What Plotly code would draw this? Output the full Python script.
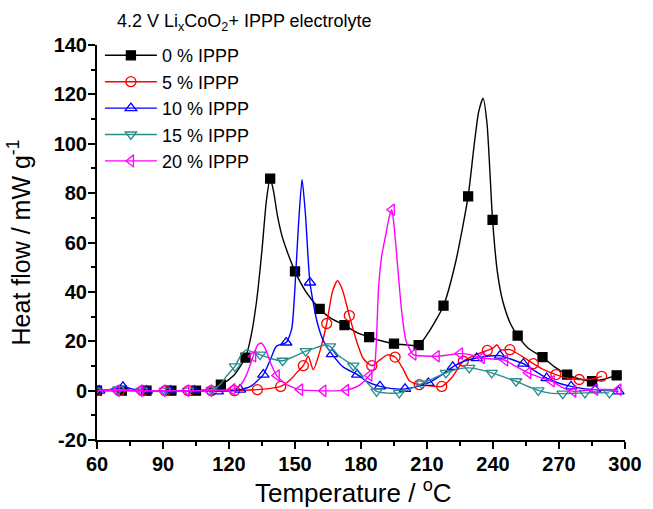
import plotly.graph_objects as go

# ---------------- data ----------------
series_names = ["0 % IPPP", "5 % IPPP", "10 % IPPP", "15 % IPPP", "20 % IPPP"]

# 0 % IPPP
s0_mark_t = [60, 71.3, 82.5, 93.8, 105, 116.3, 127.5, 138.7, 150, 161.2, 172.5, 183.7, 195, 206.2, 217.5, 228.7, 239.8, 251.2, 262.5, 273.7, 285, 296.2]
s0_mark_y = [0, 0, 0, 0, 0, 2.4, 13.4, 85.9, 48.3, 33.1, 26.5, 21.7, 19.0, 18.4, 34.4, 78.7, 69.2, 22.3, 13.6, 6.5, 3.8, 6.2]
s0_curve_t = [60, 71.3, 82.5, 93.8, 105, 110, 116.3, 122, 127.5, 130, 132.5, 135, 137, 138.7, 140.2, 142, 144, 146.2, 150, 155, 161.2, 166, 172.5, 178, 183.7, 190, 195, 200, 206.2, 211, 217.5, 223, 228.7, 231.5, 233.5, 235.5, 237.3, 239.8, 242, 244.5, 248, 251.2, 256, 262.5, 268, 273.7, 279, 285, 290, 296.2]
s0_curve_y = [0, 0, 0, 0, 0, 0.4, 2.4, 6.0, 13.4, 22, 36, 57, 77, 85.9, 81, 71, 63, 57, 48.3, 40, 33.1, 29.5, 26.5, 23.6, 21.7, 20.0, 19.0, 18.6, 18.4, 24, 34.4, 52, 78.7, 100, 113, 118.5, 108, 69.2, 48, 36, 27, 22.3, 17.2, 13.6, 9.6, 6.5, 4.8, 3.8, 4.5, 6.2]

# 5 % IPPP
s1_mark_t = [59.7, 70.1, 80.6, 91.0, 101.5, 112.0, 122.5, 132.9, 143.5, 153.8, 164.4, 174.7, 184.9, 195.5, 206.5, 216.7, 226.5, 237.4, 247.7, 258.3, 268.6, 279.2, 289.4]
s1_mark_y = [0, 0, 0, 0, 0, 0, 0, 0.4, 1.7, 10.1, 27.2, 30.4, 10.1, 13.6, 2.4, 1.7, 11.9, 16.3, 16.6, 10.9, 6.5, 4.5, 5.8]
s1_curve_t = [59.7, 70.1, 80.6, 91.0, 101.5, 112.0, 122.5, 132.9, 138, 143.5, 148, 151, 153.8, 156, 158.3, 161, 164.4, 167, 169.3, 171.5, 174.7, 178, 181, 184.9, 188, 192, 195.5, 199, 202, 206.5, 211, 216.7, 221, 226.5, 232, 237.4, 240, 241.8, 243.5, 247.7, 253, 258.3, 263, 268.6, 274, 279.2, 284, 289.4]
s1_curve_y = [0, 0, 0, 0, 0, 0, 0, 0.4, 0.8, 1.7, 4.5, 7.5, 10.1, 13.9, 8.5, 15, 27.2, 40, 44.5, 41, 30.4, 20, 13, 10.1, 12, 14.5, 13.6, 9, 4, 2.4, 2.0, 1.7, 5.0, 11.9, 14.5, 16.3, 17.2, 18.6, 16.5, 16.6, 14, 10.9, 8.5, 6.5, 5.0, 4.5, 4.6, 5.8]

# 10 % IPPP
s2_mark_t = [61.0, 71.8, 82.6, 93.4, 104.2, 114.9, 125.0, 135.6, 146.0, 156.8, 166.8, 178.3, 188.6, 200.0, 210.6, 221.7, 232.6, 243.2, 253.8, 264.4, 275.5, 286.4, 297.0]
s2_mark_y = [0, 1.5, 0, 0, 0, -0.3, 0.4, 6.5, 19.5, 43.8, 14.8, 6.5, 1.7, 0.7, 3.1, 9.6, 13.2, 14.2, 10.9, 5.1, 1.7, 0.4, -0.3]
s2_curve_t = [61.0, 66, 71.8, 77, 82.6, 93.4, 104.2, 114.9, 125.0, 130, 135.6, 139, 141.5, 146.0, 148.5, 150, 151.5, 153.2, 154.7, 156.8, 160, 163, 166.8, 172, 178.3, 183, 188.6, 194, 200.0, 205, 210.6, 216, 221.7, 227, 232.6, 238, 243.2, 248, 253.8, 259, 264.4, 270, 275.5, 281, 286.4, 292, 297.0]
s2_curve_y = [0, 0.5, 1.5, 0.5, 0, 0, 0, -0.3, 0.4, 1.8, 6.5, 13, 18, 19.5, 25, 42, 66, 85.5, 72, 43.8, 28, 20, 14.8, 9.5, 6.5, 3.5, 1.7, 0.8, 0.7, 1.5, 3.1, 6.0, 9.6, 12, 13.2, 14.0, 14.2, 12.8, 10.9, 8.0, 5.1, 3.0, 1.7, 0.8, 0.4, 0, -0.3]

# 15 % IPPP
s3_mark_t = [59.1, 69.7, 80.3, 90.9, 101.5, 112.1, 122.7, 134.1, 144.4, 154.9, 165.9, 176.5, 187.1, 197.4, 207.6, 218.6, 229.2, 239.4, 250.5, 260.6, 271.7, 281.8, 292.9]
s3_mark_y = [0, 0.5, 0, 0, 0, 0.3, 9.8, 14.6, 12.1, 16.0, 17.9, 10.1, -0.3, -0.9, 2.8, 7.2, 9.2, 7.2, 3.8, 0.1, -1.2, -0.9, -0.9]
s3_curve_t = [59.1, 69.7, 80.3, 90.9, 101.5, 112.1, 116, 119, 122.7, 125.5, 128, 131, 134.1, 139, 144.4, 150, 154.9, 160, 163, 165.9, 170, 176.5, 182, 187.1, 192, 197.4, 202, 207.6, 213, 218.6, 224, 229.2, 234, 239.4, 245, 250.5, 255, 260.6, 266, 271.7, 281.8, 292.9]
s3_curve_y = [0, 0.5, 0, 0, 0, 0.3, 2.5, 6.0, 9.8, 14.5, 16.5, 15.5, 14.6, 13.0, 12.1, 14.0, 16.0, 17.5, 18.4, 17.9, 14.0, 10.1, 4.0, -0.3, -1.0, -0.9, 0.5, 2.8, 5.0, 7.2, 8.7, 9.2, 8.5, 7.2, 5.5, 3.8, 2.0, 0.1, -1.0, -1.2, -0.9, -0.9]

# 20 % IPPP
s4_mark_t = [58.5, 69.0, 79.5, 90.0, 100.5, 111.0, 121.5, 131.0, 141.7, 152.3, 162.9, 173.2, 183.8, 194.0, 203.8, 214.4, 225.0, 234.9, 245.5, 256.0, 266.7, 276.5, 286.4, 297.0]
s4_mark_y = [0, 0, 0, 0, 0, 0, 0.5, 13.9, 6.1, 0.4, -0.1, 0.2, 6.1, 73.3, 14.6, 13.9, 15.0, 13.2, 12.3, 7.2, 3.8, -0.3, 0.4, 0.4]
s4_curve_t = [58.5, 69.0, 79.5, 90.0, 100.5, 111.0, 121.5, 125, 128, 131.0, 133, 134.7, 136.5, 139, 141.7, 146, 152.3, 162.9, 173.2, 179, 183.8, 186, 187, 188, 189.5, 191, 193, 194.0, 195, 196.5, 198.5, 200.5, 203.8, 209, 214.4, 220, 225.0, 230, 234.9, 240, 245.5, 250, 256.0, 261, 266.7, 271, 276.5, 286.4, 297.0]
s4_curve_y = [0, 0, 0, 0, 0, 0, 0.5, 2.0, 6.5, 13.9, 18.5, 19.3, 17.0, 11.0, 6.1, 2.5, 0.4, -0.1, 0.2, 2.0, 6.1, 9.0, 20, 42, 55, 62, 71, 73.3, 67, 52, 32, 20, 14.6, 14.0, 13.9, 14.5, 15.0, 14.5, 13.2, 12.8, 12.3, 10.0, 7.2, 5.5, 3.8, 1.5, -0.3, 0.4, 0.4]

x_ticks = [60, 90, 120, 150, 180, 210, 240, 270, 300]
y_ticks = [-20, 0, 20, 40, 60, 80, 100, 120, 140]

# ---------------- style ----------------
colors = ["#000000", "#ff0000", "#0000ff", "#2a8c8c", "#ff00ff"]
symbols = ["square", "circle-open", "triangle-up-open", "triangle-down-open", "triangle-left-open"]
msizes = [9, 10, 10, 10, 10]

curves = [(s0_curve_t, s0_curve_y), (s1_curve_t, s1_curve_y), (s2_curve_t, s2_curve_y),
          (s3_curve_t, s3_curve_y), (s4_curve_t, s4_curve_y)]
marks = [(s0_mark_t, s0_mark_y), (s1_mark_t, s1_mark_y), (s2_mark_t, s2_mark_y),
         (s3_mark_t, s3_mark_y), (s4_mark_t, s4_mark_y)]

fig = go.Figure()
for i, name in enumerate(series_names):
    ct, cy = curves[i]
    mt, my = marks[i]
    fig.add_trace(go.Scatter(x=ct, y=cy, mode="lines", line=dict(color=colors[i], width=1.4, shape="spline", smoothing=0.6),
                             showlegend=False, legendgroup=name, hoverinfo="skip"))
    fig.add_trace(go.Scatter(x=mt, y=my, mode="markers", showlegend=False, legendgroup=name,
                             marker=dict(symbol=symbols[i], size=msizes[i], color=colors[i], line=dict(color=colors[i], width=1.3))))
    fig.add_trace(go.Scatter(x=[None], y=[None], mode="lines+markers", name=name, legendgroup=name,
                             line=dict(color=colors[i], width=1.4),
                             marker=dict(symbol=symbols[i], size=msizes[i], color=colors[i], line=dict(color=colors[i], width=1.3))))

axis_font = dict(family="Liberation Sans, Arial", size=20, color="black")
fig.update_layout(
    width=653, height=509,
    margin=dict(l=97, r=28, t=45, b=69, autoexpand=False),
    paper_bgcolor="white", plot_bgcolor="white",
    font=dict(family="Liberation Sans, Arial", color="black"),
    showlegend=True,
    legend=dict(x=0.0055, y=1.02, xanchor="left", yanchor="top", bgcolor="rgba(0,0,0,0)",
                font=dict(size=18, family="Liberation Sans, Arial"), itemwidth=52, tracegroupgap=0),
    xaxis=dict(range=[60, 300], tickvals=x_ticks, ticktext=["<b>%d</b>" % v for v in x_ticks],
               automargin=False,
               showgrid=False, zeroline=False, showline=True, linecolor="black", linewidth=2,
               ticks="outside", ticklen=7, tickwidth=2, tickcolor="black", tickfont=axis_font,
               ticklabelstandoff=-2,
               minor=dict(dtick=15, ticks="outside", ticklen=4, tickwidth=1.5, tickcolor="black")),
    yaxis=dict(range=[-20, 140], tickvals=y_ticks, ticktext=["<b>%d</b>" % v for v in y_ticks],
               automargin=False,
               showgrid=False, zeroline=False, showline=True, linecolor="black", linewidth=2,
               ticks="outside", ticklen=7, tickwidth=2, tickcolor="black", tickfont=axis_font,
               ticklabelstandoff=-3,
               minor=dict(dtick=10, ticks="outside", ticklen=4, tickwidth=1.5, tickcolor="black"),
               title=dict(text="Heat flow / mW g<sup>-1</sup>", font=dict(size=25), standoff=16)),
    annotations=[
        dict(text="4.2 V Li<sub>x</sub>CoO<sub>2</sub>+ IPPP electrolyte", x=0.0345, y=1.058,
             xref="paper", yref="paper", xanchor="left", yanchor="middle", showarrow=False,
             font=dict(size=18, family="Liberation Sans, Arial")),
        dict(text="Temperature / <sup>o</sup>C", x=0.485, y=-0.131,
             xref="paper", yref="paper", xanchor="center", yanchor="middle", showarrow=False,
             font=dict(size=26, family="Liberation Sans, Arial")),
    ],
)

fig.write_html("out.html", config={"displayModeBar": False},
               post_script="document.body.style.margin='0px';document.body.style.overflow='hidden';")
